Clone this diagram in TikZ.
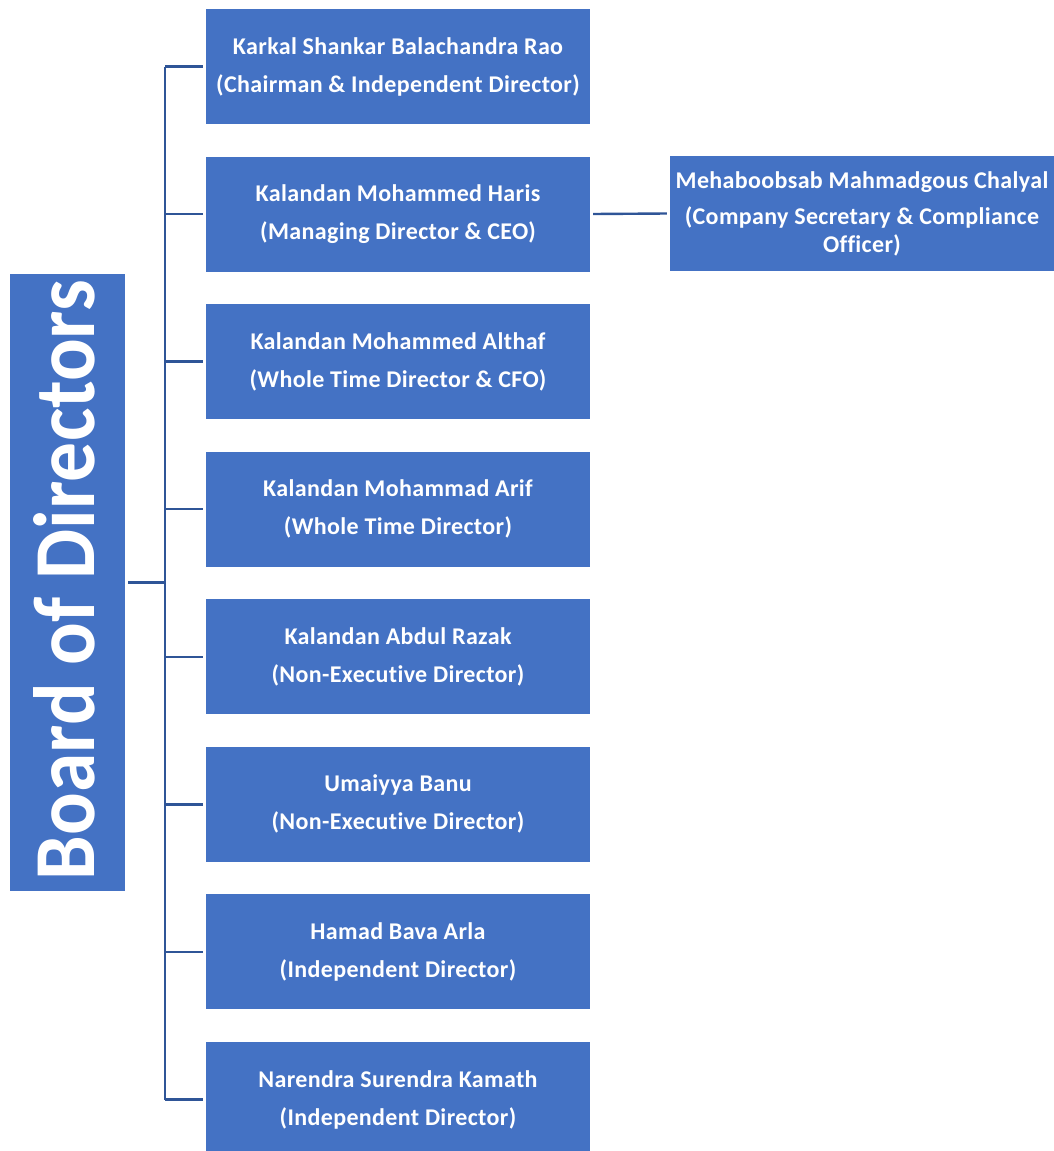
\documentclass[tikz,border=0pt]{standalone}
\usepackage{fontspec}
\setmainfont{Carlito}[LetterSpace=1.5,Ligatures=NoCommon]
\newfontfamily\headfont{Carlito}[Ligatures=NoCommon]
\definecolor{boxblue}{HTML}{4472C4}
\definecolor{linkblue}{HTML}{2F5597}
\begin{document}
\begin{tikzpicture}[x=1pt,y=-1pt,
  member/.style={fill=boxblue,draw=none,minimum width=384pt,minimum height=115pt,
    inner sep=0pt,text=white,align=center,
    font=\bfseries\fontsize{24}{28}\selectfont},
  link/.style={draw=linkblue,line width=2.4pt}]
\useasboundingbox (0,0) rectangle (1054,1151);
\clip (0,0) rectangle (1054,1151);

% board heading
\node[fill=boxblue,minimum width=115pt,minimum height=617pt,inner sep=0pt] (board) at (67.5,582.5) {};
\node[rotate=90,text=white,inner sep=0pt] at (64,580)
  {\resizebox{600pt}{61pt}{\headfont\bfseries\fontsize{80}{80}\selectfont Board of Directors}};

% directors
\node[member] (d1) at (398,66.5)   {Karkal Shankar Balachandra Rao\\[10pt](Chairman \& Independent Director)};
\node[member] (d2) at (398,214)    {Kalandan Mohammed Haris\\[10pt](Managing Director \& CEO)};
\node[member] (d3) at (398,361.6)  {Kalandan Mohammed Althaf\\[10pt](Whole Time Director \& CFO)};
\node[member] (d4) at (398,509.2)  {Kalandan Mohammad Arif\\[10pt](Whole Time Director)};
\node[member] (d5) at (398,656.8)  {Kalandan Abdul Razak\\[10pt](Non-Executive Director)};
\node[member] (d6) at (398,804.3)  {Umaiyya Banu\\[10pt](Non-Executive Director)};
\node[member] (d7) at (398,951.9)  {Hamad Bava Arla\\[10pt](Independent Director)};
\node[member] (d8) at (398,1099.5) {Narendra Surendra Kamath\\[10pt](Independent Director)};

% company secretary
\node[member] (cs) at (862,213.5) {Mehaboobsab Mahmadgous Chalyal\\[8pt](Company Secretary \& Compliance\\Officer)};

% connectors
\coordinate (spine) at (165,582.5);
\draw[link] ([xshift=3pt]board.east) -- (spine);
\draw[link] (d1.west -| spine) -- (d8.west -| spine);
\foreach \d in {d1,d2,d3,d4,d5,d6,d7,d8}
  \draw[link] (\d.west -| spine) -- ([xshift=-3pt]\d.west);
\draw[link] ([xshift=3pt]d2.east) -- ([xshift=-3pt]cs.west);
\end{tikzpicture}
\end{document}
